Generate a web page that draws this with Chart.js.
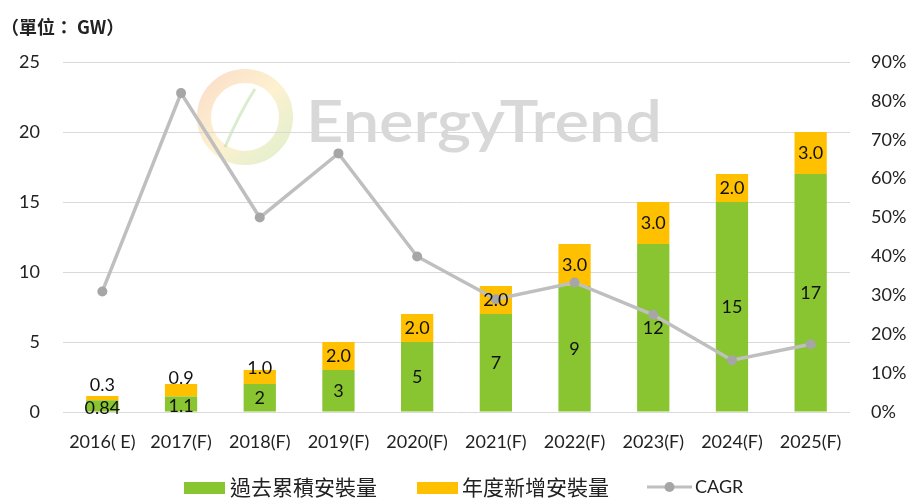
<!DOCTYPE html>
<html><head><meta charset="utf-8">
<script src="https://cdn.jsdelivr.net/npm/chart.js@4"></script>
<style>html,body{margin:0;padding:0;background:#fff}#wrap{width:912px;height:498px;position:relative}</style>
</head><body><div id="wrap"><canvas id="c" width="912" height="498"></canvas></div>
<script>
const categories = ['2016( E)','2017(F)','2018(F)','2019(F)','2020(F)','2021(F)','2022(F)','2023(F)','2024(F)','2025(F)'];
const cumulative = [0.84,1.1,2,3,5,7,9,12,15,17];
const annualNew = [0.3,0.9,1.0,2.0,2.0,2.0,3.0,3.0,2.0,3.0];
const cagr = [31,82,50,66.5,40,29,33.3,25,13.3,17.4];
const leftTicks = [0,5,10,15,20,25];
const rightTicks = [0,10,20,30,40,50,60,70,80,90];
const seriesNames = ['過去累積安裝量','年度新增安裝量','CAGR'];
const unitTitle = '（單位： GW）';

const GREEN = '#88C531', GOLD = '#FFC000', LINE = '#BFBFBF', DOT = '#A6A6A6';
const NUM_FONT = 'Lato, "Liberation Sans", sans-serif';
const CJK_FONT = '"Noto Sans CJK TC", "Noto Sans CJK SC", sans-serif';

const watermark = {
  id: 'watermark',
  beforeDraw(chart) {
    const ctx = chart.ctx;
    ctx.save();
    const cx = 245, cy = 117, r = 41;
    const g = ctx.createLinearGradient(cx - r, cy - r, cx + r, cy + r);
    g.addColorStop(0, 'rgba(244,160,100,0.35)');
    g.addColorStop(0.5, 'rgba(250,215,120,0.35)');
    g.addColorStop(1, 'rgba(170,210,110,0.35)');
    ctx.strokeStyle = g;
    ctx.lineWidth = 14;
    ctx.beginPath(); ctx.arc(cx, cy, r, 0, Math.PI * 2); ctx.stroke();
    ctx.strokeStyle = 'rgba(150,200,120,0.35)';
    ctx.lineWidth = 3;
    ctx.beginPath(); ctx.moveTo(cx - 20, cy + 30); ctx.quadraticCurveTo(cx - 5, cy - 5, cx + 10, cy - 28); ctx.stroke();
    ctx.font = '600 58px Lato, sans-serif';
    const w = ctx.measureText('EnergyTrend').width;
    ctx.translate(306, 142);
    ctx.scale(356 / w, 1);
    ctx.fillStyle = 'rgba(190,190,190,0.6)';
    ctx.textBaseline = 'alphabetic';
    ctx.fillText('EnergyTrend', 0, 0);
    ctx.restore();
  }
};

const labelsPlugin = {
  id: 'barLabels',
  afterDatasetsDraw(chart) {
    const ctx = chart.ctx;
    ctx.save();
    ctx.font = '18px ' + NUM_FONT;
    ctx.fillStyle = '#111';
    ctx.textAlign = 'center';
    ctx.textBaseline = 'middle';
    const m0 = chart.getDatasetMeta(0), m1 = chart.getDatasetMeta(1);
    m0.data.forEach((el, i) => {
      const segH = el.base - el.y;
      let y = (el.y + el.base) / 2;
      if (segH < 16) y += 2;
      ctx.fillText(String(cumulative[i]), el.x, y);
    });
    m1.data.forEach((el, i) => {
      const segH = el.base - el.y;
      let y = (el.y + el.base) / 2;
      if (segH < 8) y = el.y - 11;
      else if (segH < 13) y = el.y - 6;
      else if (segH < 16) y = el.y - 2;
      ctx.fillText(annualNew[i].toFixed(1), el.x, y);
    });
    ctx.restore();
  },
  afterDraw(chart) {
    const ctx = chart.ctx;
    ctx.save();
    ctx.font = 'bold 18px ' + CJK_FONT;
    ctx.fillStyle = '#222';
    ctx.textBaseline = 'middle';
    ctx.textAlign = 'left';
    ctx.fillText(unitTitle, 1, 27);
    const ly = 487;
    ctx.fillStyle = GREEN; ctx.fillRect(184, 482, 41, 12);
    ctx.fillStyle = GOLD; ctx.fillRect(417, 482, 41, 12);
    ctx.strokeStyle = LINE; ctx.lineWidth = 3;
    ctx.beginPath(); ctx.moveTo(647, ly); ctx.lineTo(692, ly); ctx.stroke();
    ctx.fillStyle = DOT; ctx.beginPath(); ctx.arc(669.5, ly, 5, 0, Math.PI * 2); ctx.fill();
    ctx.fillStyle = '#222';
    ctx.font = '21px ' + CJK_FONT;
    ctx.fillText(seriesNames[0], 230, ly);
    ctx.fillText(seriesNames[1], 462, ly);
    ctx.font = '18px ' + NUM_FONT;
    ctx.fillText(seriesNames[2], 695, ly);
    ctx.restore();
  }
};

new Chart(document.getElementById('c'), {
  data: {
    labels: categories,
    datasets: [
      { type: 'bar', label: seriesNames[0], data: cumulative, backgroundColor: GREEN, stack: 's', yAxisID: 'y', order: 2,
        categoryPercentage: 1, barPercentage: 0.41 },
      { type: 'bar', label: seriesNames[1], data: annualNew, backgroundColor: GOLD, stack: 's', yAxisID: 'y', order: 2,
        categoryPercentage: 1, barPercentage: 0.41 },
      { type: 'line', label: seriesNames[2], data: cagr, yAxisID: 'y1', order: 0,
        borderColor: LINE, borderWidth: 3.5, pointRadius: 5, pointBackgroundColor: DOT, pointBorderWidth: 0, tension: 0 }
    ]
  },
  options: {
    responsive: false,
    devicePixelRatio: 1,
    animation: false,
    layout: { padding: { top: 62, left: 0, right: 0, bottom: 0 } },
    plugins: { legend: { display: false }, tooltip: { enabled: false } },
    scales: {
      x: {
        stacked: true,
        grid: { display: false, drawTicks: false },
        border: { display: false },
        ticks: { color: '#222', font: { family: NUM_FONT, size: 18 }, padding: 19, maxRotation: 0, autoSkip: false },
        afterFit(s) { s.height = 86; }
      },
      y: {
        stacked: true, min: 0, max: 25,
        position: 'left',
        grid: { color: '#D9D9D9', lineWidth: 1, drawTicks: false },
        border: { display: false },
        afterBuildTicks(s) { s.ticks = leftTicks.map(v => ({ value: v })); },
        ticks: { color: '#222', font: { family: NUM_FONT, size: 18 }, padding: 23 },
        afterFit(s) { s.width = 63; }
      },
      y1: {
        min: 0, max: 90,
        position: 'right',
        grid: { display: false, drawTicks: false },
        border: { display: false },
        afterBuildTicks(s) { s.ticks = rightTicks.map(v => ({ value: v })); },
        ticks: { color: '#222', font: { family: NUM_FONT, size: 18 }, padding: 21, callback: v => v + '%' },
        afterFit(s) { s.width = 62; }
      }
    }
  },
  plugins: [watermark, labelsPlugin]
});
</script></body></html>
